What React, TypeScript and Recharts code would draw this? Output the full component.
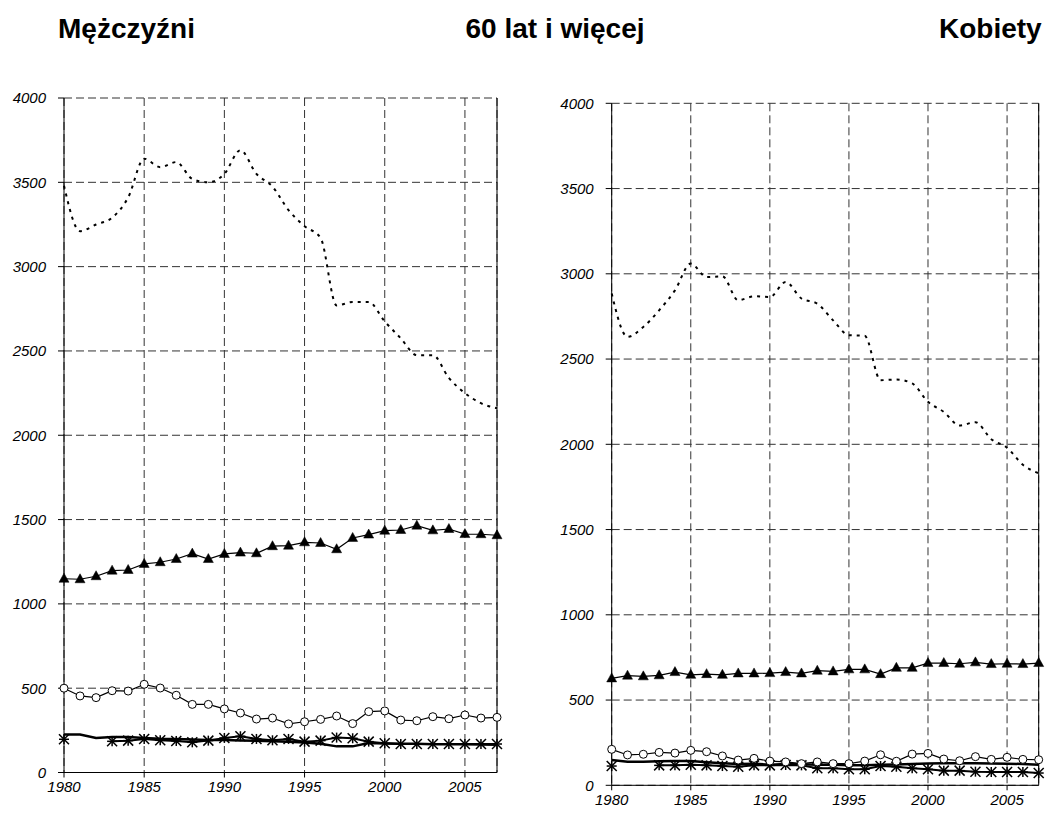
import React from "react";
import { LineChart, Line, XAxis, YAxis, CartesianGrid, ReferenceLine } from "recharts";

const years = [1980, 1981, 1982, 1983, 1984, 1985, 1986, 1987, 1988, 1989, 1990, 1991, 1992, 1993, 1994, 1995, 1996, 1997, 1998, 1999, 2000, 2001, 2002, 2003, 2004, 2005, 2006, 2007];
const xTicks = [1980, 1985, 1990, 1995, 2000, 2005];
const yTicks = [0, 500, 1000, 1500, 2000, 2500, 3000, 3500, 4000];

// Mężczyźni
const menDotted = [3480, 3210, 3250, 3290, 3410, 3640, 3590, 3620, 3520, 3500, 3550, 3690, 3550, 3475, 3335, 3240, 3170, 2770, 2790, 2790, 2675, 2575, 2475, 2475, 2340, 2250, 2190, 2160];
const menTriangle = [1149, 1146, 1164, 1197, 1201, 1237, 1247, 1266, 1298, 1266, 1296, 1304, 1300, 1342, 1345, 1365, 1361, 1324, 1391, 1411, 1434, 1438, 1464, 1436, 1444, 1414, 1413, 1407];
const menCircle = [500, 454, 444, 485, 483, 523, 501, 458, 404, 404, 377, 353, 317, 323, 288, 301, 315, 335, 290, 361, 365, 311, 307, 331, 319, 341, 323, 327];
const menStar = [197, null, null, 185, 189, 199, 191, 187, 179, 189, 205, 215, 199, 191, 199, 183, 189, 207, 203, 183, 173, 169, 169, 169, 169, 169, 169, 169];
const menSolid = [225, 225, 205, 210, 210, 205, 200, 198, 195, 193, 192, 190, 188, 185, 183, 178, 170, 155, 155, 175, 172, 170, 170, 168, 168, 167, 166, 165];

// Kobiety
const womenDotted = [2884, 2630, 2688, 2786, 2903, 3060, 2981, 2985, 2845, 2868, 2864, 2952, 2855, 2825, 2727, 2640, 2636, 2376, 2380, 2357, 2249, 2190, 2110, 2130, 2030, 1980, 1880, 1830];
const womenTriangle = [627, 643, 639, 645, 664, 648, 652, 648, 656, 656, 658, 664, 656, 672, 668, 680, 680, 652, 689, 689, 717, 717, 713, 721, 711, 713, 711, 717];
const womenCircle = [211, 178, 182, 193, 189, 205, 197, 172, 148, 158, 142, 137, 127, 137, 127, 127, 142, 179, 141, 183, 187, 154, 144, 168, 152, 164, 152, 150];
const womenStar = [113, null, null, 117, 117, 121, 117, 113, 109, 117, 117, 119, 117, 100, 100, 94, 94, 113, 109, 100, 94, 86, 86, 80, 78, 78, 78, 72];
const womenSolid = [148, 138, 138, 141, 142, 142, 135, 129, 125, 126, 121, 125, 123, 120, 120, 118, 118, 120, 122, 125, 128, 130, 130, 130, 128, 127, 125, 120];

const FONT = "'Liberation Sans', Arial, sans-serif";

function rows(dotted, tri, circ, star, solid) {
  return years.map((y, i) => ({ year: y, dotted: dotted[i], tri: tri[i], circ: circ[i], star: star[i], solid: solid[i] }));
}

const Triangle = (p) => {
  if (p.cx == null || p.cy == null || p.value == null) return <g key={p.key} />;
  const { cx, cy } = p;
  return <polygon key={p.key} points={`${cx},${cy - 5.5} ${cx - 5},${cy + 3.5} ${cx + 5},${cy + 3.5}`} fill="#000" stroke="#000" strokeWidth={0.5} />;
};

const Circle = (p) => {
  if (p.cx == null || p.cy == null || p.value == null) return <g key={p.key} />;
  return <circle key={p.key} cx={p.cx} cy={p.cy} r={4} fill="#fff" stroke="#000" strokeWidth={1} />;
};

const Star = (p) => {
  if (p.cx == null || p.cy == null || p.value == null) return <g key={p.key} />;
  const { cx, cy } = p;
  const s = 5;
  return (
    <g key={p.key} stroke="#000" strokeWidth={1.5}>
      <line x1={cx} y1={cy - s} x2={cx} y2={cy + s} />
      <line x1={cx - s} y1={cy - s} x2={cx + s} y2={cy + s} />
      <line x1={cx - s} y1={cy + s} x2={cx + s} y2={cy - s} />
      <line x1={cx - s} y1={cy} x2={cx + s} y2={cy} />
    </g>
  );
};

const tickStyle = { fontFamily: FONT, fontSize: 15, fontStyle: "italic", fill: "#000" };

function Panel({ data, left, width, margin, yWidth }) {
  return (
    <div style={{ position: "absolute", left, top: 0 }}>
      <LineChart width={width} height={819} data={data} margin={margin}>
        <CartesianGrid stroke="#333" strokeDasharray="8 4" horizontalPoints={undefined} />
        <XAxis
          dataKey="year"
          type="number"
          domain={[1980, 2007]}
          ticks={xTicks}
          height={30}
          stroke="#000"
          tickSize={5}
          tickMargin={4}
          tick={tickStyle}
          tickLine={{ stroke: "#000" }}
        />
        <YAxis
          type="number"
          domain={[0, 4000]}
          ticks={yTicks}
          width={yWidth}
          stroke="#000"
          tickSize={6}
          tickMargin={12}
          tick={tickStyle}
          tickLine={{ stroke: "#000" }}
        />
        <ReferenceLine x={2007} stroke="#000" strokeWidth={1} />
        <Line dataKey="solid" stroke="#000" strokeWidth={2.5} dot={false} isAnimationActive={false} />
        <Line dataKey="star" stroke="#000" strokeWidth={2} dot={Star} isAnimationActive={false} />
        <Line dataKey="circ" stroke="#000" strokeWidth={1.2} dot={Circle} isAnimationActive={false} />
        <Line dataKey="tri" stroke="#000" strokeWidth={1.2} dot={Triangle} isAnimationActive={false} />
        <Line type="monotone" dataKey="dotted" stroke="#000" strokeWidth={2} strokeDasharray="3 5" dot={false} isAnimationActive={false} />
      </LineChart>
    </div>
  );
}

export default function App() {
  const menData = rows(menDotted, menTriangle, menCircle, menStar, menSolid);
  const womenData = rows(womenDotted, womenTriangle, womenCircle, womenStar, womenSolid);
  return (
    <div style={{ position: "absolute", left: 0, top: 0, width: 1045, height: 819, background: "#fff", overflow: "hidden" }}>
      <svg width={1045} height={60} style={{ position: "absolute", left: 0, top: 0 }}>
        <g fontFamily={FONT} fontWeight="bold" fontSize={28} fill="#000">
          <text x={58} y={38}>Mężczyźni</text>
          <text x={555} y={38} textAnchor="middle">60 lat i więcej</text>
          <text x={939} y={38}>Kobiety</text>
        </g>
      </svg>
      <Panel data={menData} left={0} width={520} yWidth={64} margin={{ top: 98, right: 23, bottom: 16.5, left: 0 }} />
      <Panel data={womenData} left={530} width={515} yWidth={81.7} margin={{ top: 103.3, right: 6.3, bottom: 3.7, left: 0 }} />
    </div>
  );
}
